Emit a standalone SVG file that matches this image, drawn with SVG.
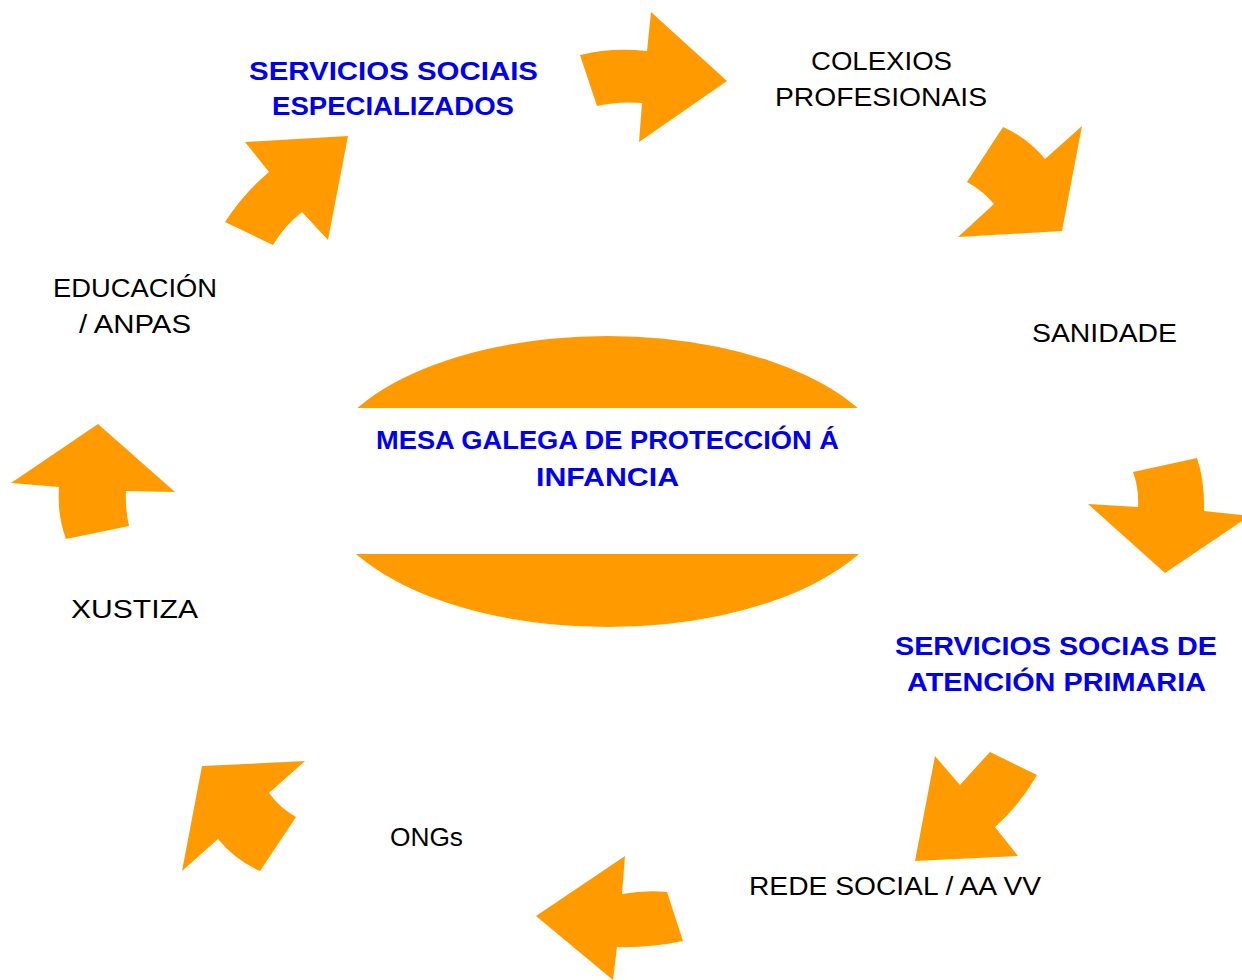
<svg xmlns="http://www.w3.org/2000/svg" width="1242" height="980" viewBox="0 0 1242 980">
<style>
.arrow{fill:#FF9B00;stroke:none}
.lbl{font-family:"Liberation Sans","DejaVu Sans",sans-serif;font-size:26px;fill:#000;text-anchor:middle}
.blue{font-weight:bold;fill:#0000F0}
</style>
<rect width="1242" height="980" fill="#fff"/>
<g id="connectors">
<path class="arrow" d="M580,55 Q612,47 647,51 L651,12 L727,81 L639,142 L642,103 Q618,101 597,106 Z"/>
<path class="arrow" d="M1003,127 Q1028,138 1045,159 L1082,126 L1062,231 L958,237 L994,204 Q982,190 967,182 Z"/>
<path class="arrow" d="M1133,472 L1197,458 Q1205,482 1204,511 L1242,515 L1242,521 L1165,573 L1088,504 L1138,507 Q1139,488 1133,472 Z"/>
<path class="arrow" d="M990,752 L1037,775 Q1020,805 995,827 L1018,856 L915,861 L935,756 L960,785 Q977,766 990,752 Z"/>
<path class="arrow" d="M625,856 L536,916 L613,980 L617,947 Q650,948 683,941 L667,892 Q645,890 622,894 Z"/>
<path class="arrow" d="M202,766 L305,761 L269,793 Q280,808 296,817 L260,871 Q235,860 218,839 L182,871 Z"/>
<path class="arrow" d="M98,424 L175,492 L126,491 Q125,508 129,526 L66,539 Q57,515 59,487 L11,483 Z"/>
<path class="arrow" d="M245,142 L348,136 L328,240 L302,212 Q285,225 273,245 L225,222 Q244,193 269,172 Z"/>
</g>
<g id="center">
<ellipse cx="607.5" cy="481.5" rx="290" ry="145.5" fill="#FF9B00"/>
<rect x="315" y="408" width="586" height="146" fill="#fff"/>
<text class="lbl blue" x="607.5" y="449" textLength="463" lengthAdjust="spacingAndGlyphs">MESA GALEGA DE PROTECCIÓN Á</text>
<text class="lbl blue" x="607.5" y="486" textLength="143" lengthAdjust="spacingAndGlyphs">INFANCIA</text>
</g>
<g id="servicios-especializados">
<text class="lbl blue" x="393.5" y="80" textLength="289" lengthAdjust="spacingAndGlyphs">SERVICIOS SOCIAIS</text>
<text class="lbl blue" x="393" y="115" textLength="242" lengthAdjust="spacingAndGlyphs">ESPECIALIZADOS</text>
</g>
<g id="colexios">
<text class="lbl" x="881.5" y="70" textLength="141" lengthAdjust="spacingAndGlyphs">COLEXIOS</text>
<text class="lbl" x="881" y="106" textLength="212" lengthAdjust="spacingAndGlyphs">PROFESIONAIS</text>
</g>
<g id="sanidade">
<text class="lbl" x="1104.5" y="342" textLength="145" lengthAdjust="spacingAndGlyphs">SANIDADE</text>
</g>
<g id="servicios-primaria">
<text class="lbl blue" x="1056" y="655" textLength="322" lengthAdjust="spacingAndGlyphs">SERVICIOS SOCIAS DE</text>
<text class="lbl blue" x="1056.5" y="691" textLength="299" lengthAdjust="spacingAndGlyphs">ATENCIÓN PRIMARIA</text>
</g>
<g id="rede-social">
<text class="lbl" x="895" y="895" textLength="292" lengthAdjust="spacingAndGlyphs">REDE SOCIAL / AA VV</text>
</g>
<g id="ongs">
<text class="lbl" x="426.5" y="846" textLength="73" lengthAdjust="spacingAndGlyphs">ONGs</text>
</g>
<g id="xustiza">
<text class="lbl" x="134.5" y="618" textLength="127" lengthAdjust="spacingAndGlyphs">XUSTIZA</text>
</g>
<g id="educacion">
<text class="lbl" x="135" y="297" textLength="164" lengthAdjust="spacingAndGlyphs">EDUCACIÓN</text>
<text class="lbl" x="135" y="333" textLength="112" lengthAdjust="spacingAndGlyphs">/ ANPAS</text>
</g>
</svg>
